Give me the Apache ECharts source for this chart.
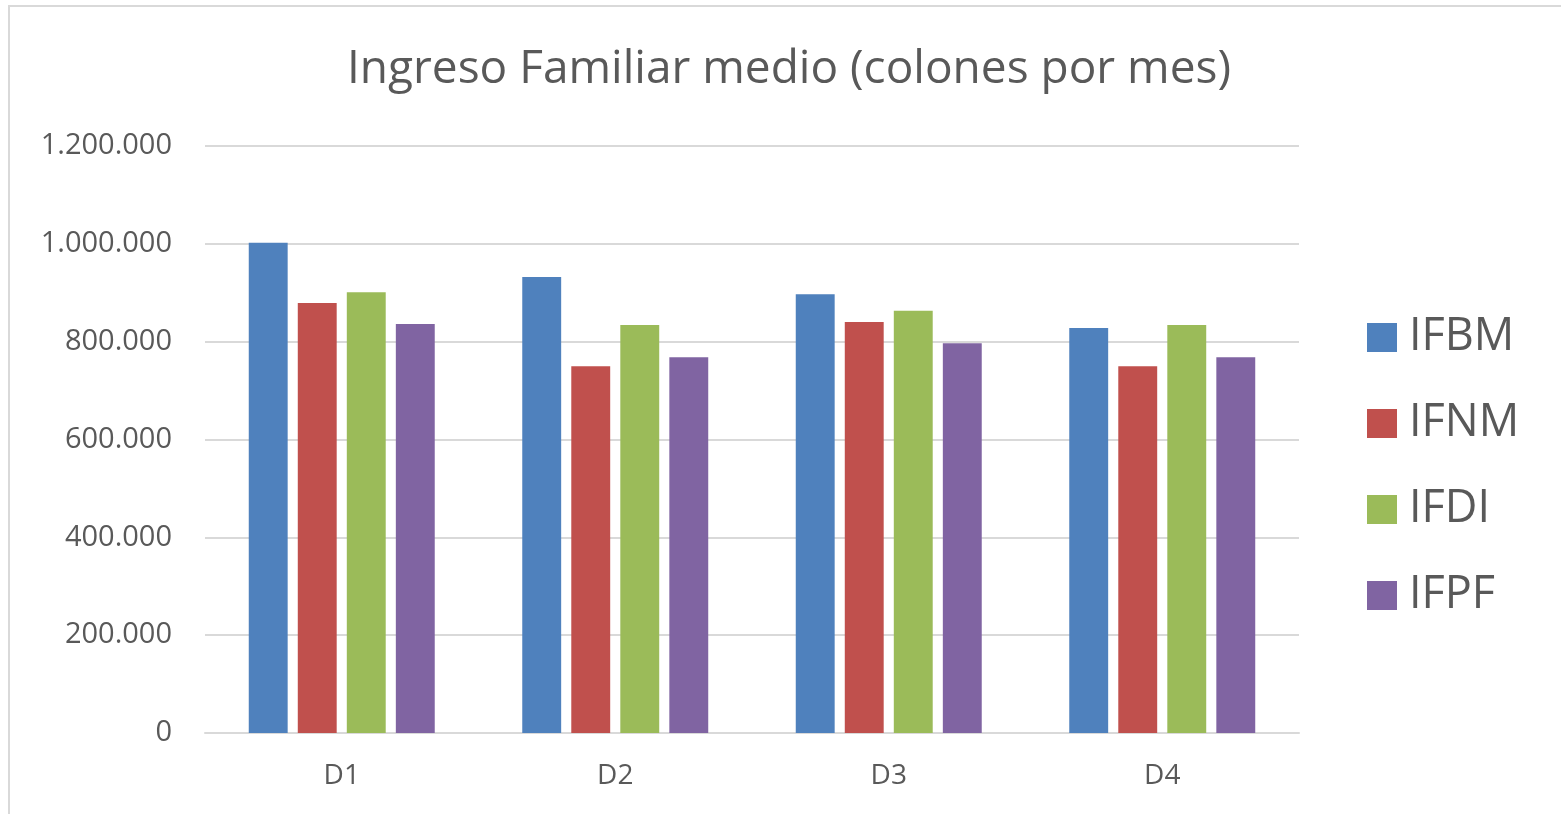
<!DOCTYPE html>
<html><head><meta charset="utf-8">
<script src="https://cdn.jsdelivr.net/npm/echarts@6/dist/echarts.min.js"></script>
<style>
html,body{margin:0;padding:0;background:#fff;}
#frame{position:absolute;left:8px;top:5px;width:1560px;height:820px;border:2px solid #d9d9d9;box-sizing:border-box;}
#c{position:absolute;left:0;top:0;width:1561px;height:814px;}
</style></head>
<body>
<div id="frame"></div>
<div id="c"></div>
<script>
const categories = ['D1','D2','D3','D4'];
const seriesNames = ['IFBM','IFNM','IFDI','IFPF'];
const IFBM = [1002000, 932000, 897000, 828000];
const IFNM = [879000, 750000, 840000, 750000];
const IFDI = [901000, 834000, 863000, 834000];
const IFPF = [836000, 768000, 797000, 768000];
const colors = ['#4F81BD','#C0504D','#9BBB59','#8064A2'];
const values = [IFBM, IFNM, IFDI, IFPF];

const fmt = v => String(v).replace(/\B(?=(\d{3})+(?!\d))/g, '.');
const chart = echarts.init(document.getElementById('c'));
chart.setOption({
  animation:false,
  title:{text:'Ingreso Familiar medio (colones por mes)',left:784,textAlign:'center',top:42,
    textStyle:{fontFamily:'Open Sans',fontWeight:'normal',fontSize:46,color:'#595959'}},
  legend:{orient:'vertical',left:1362,top:310,itemWidth:30,itemHeight:29,itemGap:41,
    icon:'rect',textStyle:{fontFamily:'Open Sans',fontSize:45,lineHeight:45,color:'#595959',padding:[0,0,0,7]},
    data:seriesNames},
  grid:{left:205,right:262,top:146,bottom:81,containLabel:false},
  xAxis:{type:'category',data:categories,
    axisLine:{lineStyle:{color:'#d9d9d9',width:2}},axisTick:{show:false},
    axisLabel:{fontFamily:'Open Sans',fontSize:28,color:'#595959',margin:29}},
  yAxis:{type:'value',min:0,max:1200000,interval:200000,
    axisLine:{show:false},axisTick:{show:false},
    splitLine:{lineStyle:{color:'#d9d9d9',width:2}},
    axisLabel:{fontFamily:'Open Sans',fontSize:29,color:'#595959',margin:33,padding:[4,0,0,0],formatter:fmt}},
  series: seriesNames.map((n,i)=>({name:n,type:'bar',data:values[i],
    barGap:'26%',barCategoryGap:'32%',
    itemStyle:{color:colors[i]}}))
});
</script>
</body></html>
